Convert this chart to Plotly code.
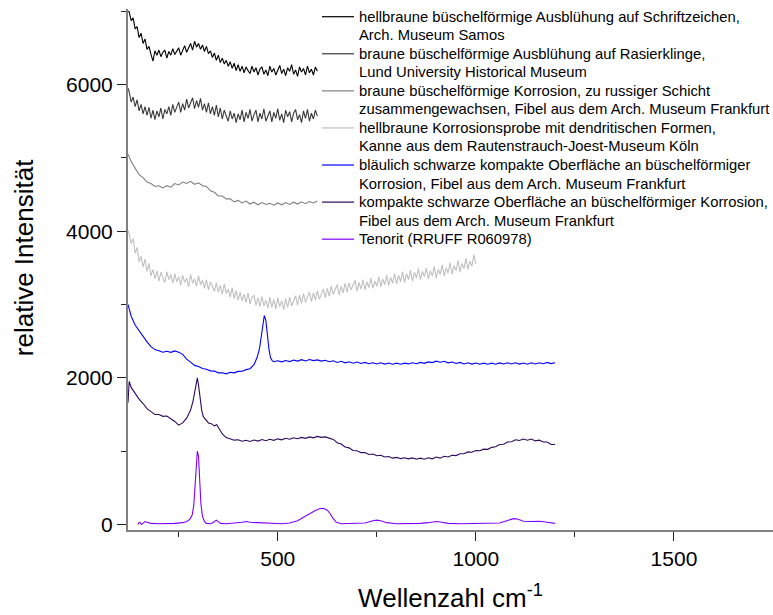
import plotly.graph_objects as go

# Raman spectra of copper corrosion products (offset for display)

legend_names = [
    "hellbraune büschelförmige Ausblühung auf Schriftzeichen,<br>Arch. Museum Samos",
    "braune büschelförmige Ausblühung auf Rasierklinge,<br>Lund University Historical Museum",
    "braune büschelförmige Korrosion, zu russiger Schicht<br>zusammengewachsen, Fibel aus dem Arch. Museum Frankfurt",
    "hellbraune Korrosionsprobe mit dendritischen Formen,<br>Kanne aus dem Rautenstrauch-Joest-Museum Köln",
    "bläulich schwarze kompakte Oberfläche an büschelförmiger<br>Korrosion, Fibel aus dem Arch. Museum Frankfurt",
    "kompakte schwarze Oberfläche an büschelförmiger Korrosion,<br>Fibel aus dem Arch. Museum Frankfurt",
    "Tenorit (RRUFF R060978)",
]
colors = ["#000000", "#3a3a3a", "#808080", "#c0c0c0", "#0000ff", "#2e0a5c", "#8000ff"]

# wavenumber grids (cm-1)
x_fine600 = [122] + list(range(125, 601, 5))
x_fine1000 = [122] + list(range(125, 1001, 5))
x_step600 = [122] + list(range(130, 601, 10))

samos_y = [7000, 6990, 6870, 6910, 6760, 6790, 6640, 6700, 6560, 6620,
           6480, 6520, 6410, 6320, 6460, 6400, 6470, 6380, 6440, 6470,
           6360, 6450, 6400, 6490, 6410, 6460, 6500, 6400, 6480, 6530,
           6440, 6510, 6560, 6470, 6590, 6510, 6560, 6480, 6540, 6450,
           6520, 6420, 6460, 6370, 6430, 6330, 6400, 6300, 6360, 6280,
           6330, 6250, 6310, 6220, 6290, 6190, 6270, 6180, 6250, 6160,
           6240, 6190, 6150, 6250, 6170, 6230, 6130, 6210, 6240, 6140,
           6200, 6120, 6250, 6170, 6220, 6130, 6190, 6260, 6150, 6210,
           6120, 6230, 6180, 6270, 6140, 6200, 6110, 6240, 6170, 6220,
           6130, 6250, 6160, 6210, 6130, 6240, 6180]

lund_y = [5950, 5900, 5760, 5830, 5700, 5790, 5640, 5730, 5600, 5700,
          5580, 5690, 5540, 5650, 5520, 5640, 5560, 5680, 5530, 5660,
          5600, 5700, 5580, 5730, 5620, 5690, 5760, 5620, 5740, 5650,
          5800, 5680, 5760, 5820, 5670, 5780, 5690, 5810, 5650, 5740,
          5620, 5750, 5600, 5700, 5580, 5720, 5560, 5680, 5530, 5650,
          5570, 5500, 5640, 5530, 5610, 5480, 5600, 5520, 5650, 5490,
          5620, 5540, 5660, 5500, 5590, 5650, 5490, 5610, 5530, 5670,
          5500, 5580, 5640, 5490, 5620, 5540, 5670, 5510, 5600, 5480,
          5650, 5560, 5630, 5490, 5610, 5660, 5520, 5590, 5480, 5640,
          5540, 5660, 5500, 5610, 5530, 5650, 5570]

frankfurt_y = [5050, 4950, 4860, 4770, 4730, 4670, 4650, 4610, 4620, 4590,
               4620, 4600, 4650, 4630, 4670, 4650, 4680, 4640, 4660, 4620,
               4610, 4550, 4530, 4480, 4480, 4440, 4440, 4400, 4420, 4385,
               4410, 4370, 4395, 4360, 4390, 4365, 4380, 4355, 4385, 4360,
               4390, 4365, 4395, 4370, 4400, 4375, 4405, 4385, 4410]

koeln_y = [4010, 3960, 3830, 3900, 3700, 3780, 3580, 3660, 3510, 3620,
           3450, 3560, 3390, 3480, 3350, 3460, 3320, 3440, 3370, 3300,
           3450, 3340, 3410, 3290, 3420, 3310, 3380, 3260, 3400, 3300,
           3360, 3240, 3410, 3290, 3350, 3250, 3390, 3270, 3330, 3220,
           3340, 3200, 3310, 3230, 3180, 3300, 3170, 3260, 3140, 3280,
           3150, 3210, 3100, 3230, 3080, 3190, 3060, 3170, 3050, 3140,
           3030, 3160, 3010, 3100, 3120, 2990, 3090, 2970, 3110, 2980,
           3060, 2950, 3100, 2960, 3070, 2940, 3090, 2970, 3050, 2930,
           3080, 2960, 3100, 2980, 3060, 3120, 2990, 3130, 3020, 3150,
           3030, 3110, 3170, 3040, 3160, 3060, 3190, 3070, 3150, 3210,
           3090, 3220, 3110, 3250, 3140, 3200, 3270, 3130, 3250, 3160,
           3290, 3170, 3300, 3200, 3260, 3330, 3180, 3300, 3210, 3340,
           3200, 3310, 3230, 3360, 3220, 3320, 3250, 3380, 3240, 3350,
           3270, 3400, 3260, 3370, 3290, 3420, 3280, 3400, 3310, 3450,
           3300, 3420, 3340, 3470, 3320, 3440, 3360, 3490, 3340, 3450,
           3380, 3500, 3350, 3460, 3390, 3520, 3360, 3480, 3410, 3540,
           3390, 3500, 3430, 3570, 3410, 3530, 3460, 3600, 3440, 3560,
           3490, 3630, 3480, 3590, 3520, 3680, 3550]

blue_x = [122, 130, 140, 150, 160, 170, 180, 190, 200, 210,
          220, 230, 240, 250, 260, 270, 280, 290, 300, 310,
          320, 330, 340, 350, 360, 370, 380, 390, 400, 410,
          420, 430, 440, 448, 454, 458, 462, 466, 470, 474,
          478, 482, 486, 490, 500, 510, 520, 530, 540, 550,
          560, 570, 580, 590, 600, 610, 620, 630, 640, 650,
          660, 670, 680, 690, 700, 710, 720, 730, 740, 750,
          760, 770, 780, 790, 800, 810, 820, 830, 840, 850,
          860, 870, 880, 890, 900, 910, 920, 930, 940, 950,
          960, 970, 980, 990, 1000, 1010, 1020, 1030, 1040, 1050,
          1060, 1070, 1080, 1090, 1100, 1110, 1120, 1130, 1140, 1150,
          1160, 1170, 1180, 1190, 1200]
blue_y = [3000, 2840, 2720, 2640, 2565, 2490, 2425, 2385, 2370, 2350,
          2362, 2348, 2368, 2350, 2320, 2255, 2215, 2170, 2155, 2128,
          2118, 2095, 2092, 2068, 2070, 2055, 2075, 2068, 2088, 2090,
          2112, 2125, 2180, 2280, 2400, 2560, 2720, 2850, 2780, 2560,
          2380, 2270, 2235, 2220, 2232, 2218, 2236, 2222, 2242, 2228,
          2248, 2230, 2250, 2235, 2245, 2228, 2240, 2220, 2232, 2210,
          2225, 2205, 2220, 2200, 2215, 2195, 2210, 2192, 2206, 2190,
          2205, 2188, 2202, 2186, 2200, 2185, 2200, 2190, 2205, 2192,
          2210, 2198, 2218, 2208, 2228, 2212, 2225, 2205, 2215, 2196,
          2210, 2190, 2205, 2188, 2202, 2186, 2200, 2185, 2200, 2186,
          2204, 2190, 2206, 2190, 2205, 2188, 2202, 2186, 2205, 2190,
          2206, 2192, 2210, 2194, 2205]

black_x = [122, 125, 130, 140, 150, 160, 170, 180, 190, 200,
           210, 220, 230, 240, 250, 260, 270, 280, 286, 290,
           294, 297, 300, 304, 308, 312, 318, 325, 332, 340,
           346, 352, 360, 370, 380, 390, 400, 410, 420, 430,
           440, 450, 460, 470, 480, 490, 500, 510, 520, 530,
           540, 550, 560, 570, 580, 590, 600, 610, 620, 630,
           640, 650, 660, 670, 680, 690, 700, 710, 720, 730,
           740, 750, 760, 770, 780, 790, 800, 810, 820, 830,
           840, 850, 860, 870, 880, 890, 900, 910, 920, 930,
           940, 950, 960, 970, 980, 990, 1000, 1010, 1020, 1030,
           1040, 1050, 1060, 1070, 1080, 1090, 1100, 1110, 1120, 1130,
           1140, 1150, 1160, 1170, 1180, 1190, 1200]
black_y = [1660, 1950, 1870, 1790, 1710, 1650, 1580, 1540, 1500, 1500,
           1475, 1480, 1445, 1405, 1355, 1385, 1450, 1560, 1680, 1800,
           1950, 2000, 1900, 1720, 1560, 1470, 1425, 1385, 1375, 1345,
           1360, 1300, 1235, 1185, 1172, 1150, 1155, 1135, 1148, 1132,
           1152, 1138, 1158, 1142, 1162, 1148, 1168, 1155, 1175, 1162,
           1182, 1170, 1188, 1175, 1195, 1182, 1202, 1188, 1195, 1180,
           1160, 1115, 1098, 1058, 1045, 1010, 1005, 980, 982, 955,
           962, 938, 945, 920, 928, 905, 915, 898, 910, 895,
           908, 890, 905, 890, 910, 895, 920, 905, 930, 920,
           945, 940, 965, 965, 990, 985, 1008, 1005, 1028, 1025,
           1052, 1060, 1090, 1095, 1125, 1128, 1155, 1145, 1165, 1150,
           1165, 1140, 1150, 1125, 1125, 1090, 1090]

tenorit_x = [147, 150, 153, 156, 160, 165, 170, 180, 200, 220,
             240, 260, 270, 278, 284, 288, 291, 294, 297, 300,
             303, 306, 310, 315, 320, 330, 338, 345, 350, 356,
             370, 390, 410, 420, 430, 450, 470, 490, 510, 530,
             550, 565, 580, 595, 605, 615, 625, 632, 640, 648,
             660, 690, 720, 740, 750, 760, 775, 800, 830, 860,
             880, 900, 910, 930, 960, 1000, 1030, 1060, 1080, 1095,
             1105, 1120, 1140, 1160, 1180, 1200]
tenorit_y = [0, 30, 25, 0, 15, 40, 30, 15, 10, 10,
             15, 25, 40, 70, 130, 260, 520, 850, 1000, 930,
             600, 280, 110, 40, 15, 10, 30, 60, 40, 15,
             10, 15, 30, 40, 30, 25, 20, 15, 10, 20,
             50, 100, 150, 190, 215, 220, 195, 150, 80, 30,
             10, 10, 20, 50, 60, 50, 25, 10, 10, 15,
             25, 40, 35, 15, 10, 10, 10, 20, 55, 80,
             75, 45, 40, 45, 30, 15]

series_x = [x_fine600, x_fine600, x_step600, x_fine1000, blue_x, black_x, tenorit_x]
series_y = [samos_y, lund_y, frankfurt_y, koeln_y, blue_y, black_y, tenorit_y]

FONT = "Liberation Sans, Arial, sans-serif"

fig = go.Figure()
for name, col, xs, ys in zip(legend_names, colors, series_x, series_y):
    fig.add_trace(go.Scatter(x=xs, y=ys, mode="lines", name=name,
                             showlegend=False,
                             line=dict(color=col, width=1.1)))

axis_common = dict(
    showline=True, linecolor="#808080", linewidth=2, mirror=False,
    showgrid=False, zeroline=False, ticks="outside", ticklen=9,
    tickwidth=1, tickcolor="#222222",
    tickfont=dict(family=FONT, size=21, color="#000000"),
)

fig.update_xaxes(range=[122, 1750], tick0=0, dtick=500,
                 minor=dict(dtick=250, ticks="outside", ticklen=5,
                            tickcolor="#222222", showgrid=False),
                 title=dict(text="Wellenzahl cm<sup>-1</sup>",
                            font=dict(family=FONT, size=26, color="#000000"),
                            standoff=20),
                 **axis_common)
fig.update_yaxes(range=[-75, 7030], tick0=0, dtick=2000,
                 minor=dict(dtick=1000, ticks="outside", ticklen=5,
                            tickcolor="#222222", showgrid=False),
                 **axis_common)

fig.add_annotation(text="relative Intensität", textangle=-90,
                   xref="paper", yref="paper", x=-0.161, y=0.522,
                   xanchor="center", yanchor="middle", showarrow=False,
                   font=dict(family=FONT, size=26, color="#000000"))

# Key: a short line sample per spectrum followed by its (wrapped) description
PLOT_LEFT, PLOT_W, PLOT_TOP, PLOT_H = 128, 645, 9, 521
KEY_LINE_X0, KEY_LINE_X1, KEY_TEXT_X = 322, 354, 358
KEY_FIRST_ROW, KEY_ROW_H = 16.7, 18.54


def px_to_paper(px, py):
    return (px - PLOT_LEFT) / PLOT_W, (PLOT_TOP + PLOT_H - py) / PLOT_H


row = 0
for name, col in zip(legend_names, colors):
    lines = name.split("<br>")
    y_row = KEY_FIRST_ROW + row * KEY_ROW_H
    x0, yp = px_to_paper(KEY_LINE_X0, y_row)
    x1, _ = px_to_paper(KEY_LINE_X1, y_row)
    fig.add_shape(type="line", xref="paper", yref="paper",
                  x0=x0, x1=x1, y0=yp, y1=yp,
                  line=dict(color=col, width=1.2))
    for line in lines:
        tx, ty = px_to_paper(KEY_TEXT_X, KEY_FIRST_ROW + row * KEY_ROW_H)
        fig.add_annotation(text=line, xref="paper", yref="paper",
                           x=tx, y=ty, xanchor="left", yanchor="middle",
                           showarrow=False, borderpad=0,
                           font=dict(family=FONT, size=14.8, color="#000000"))
        row += 1

fig.update_layout(
    width=773, height=615,
    margin=dict(l=128, r=0, t=9, b=85),
    plot_bgcolor="white", paper_bgcolor="white",
    font=dict(family=FONT, color="#000000"),
    showlegend=False,
)

fig.write_html("out.html")
